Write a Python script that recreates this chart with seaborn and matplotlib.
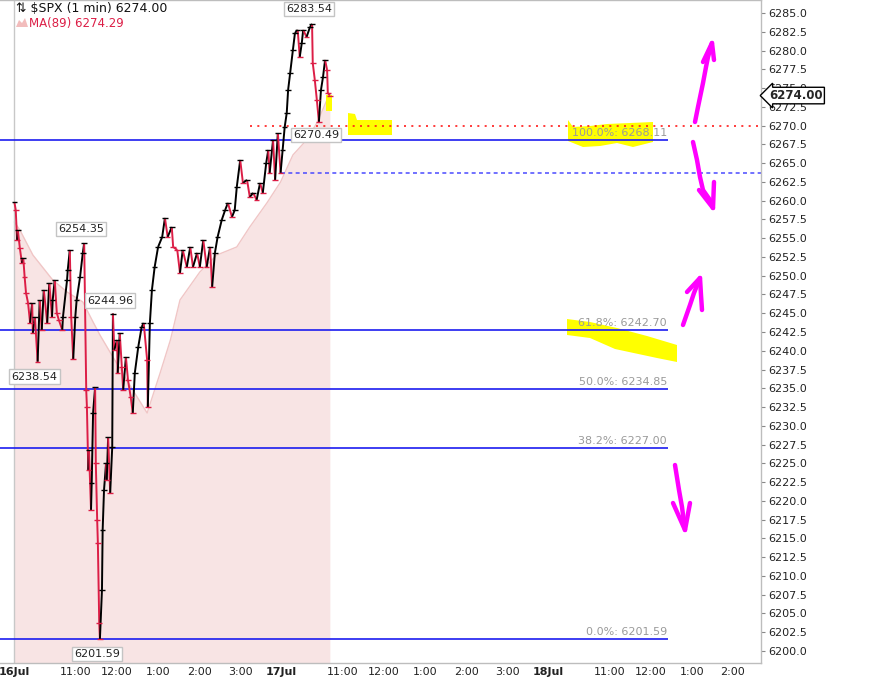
import numpy as np
import pandas as pd
import matplotlib.pyplot as plt
import seaborn as sns
import matplotlib.transforms as mtransforms
from matplotlib.collections import LineCollection
from matplotlib.patches import Polygon

# $SPX 1 min, prices (16 Jul - 17 Jul)
price_time = [
    "16 09:30", "16 09:32", "16 09:34", "16 09:35", "16 09:38", "16 09:41", "16 09:43", "16 09:45",
    "16 09:47", "16 09:50", "16 09:53", "16 09:56", "16 09:57", "16 10:00", "16 10:04", "16 10:07",
    "16 10:10", "16 10:13", "16 10:18", "16 10:21", "16 10:25", "16 10:26", "16 10:29", "16 10:32",
    "16 10:35", "16 10:40", "16 10:41", "16 10:47", "16 10:48", "16 10:51", "16 10:53", "16 10:56",
    "16 10:59", "16 11:01", "16 11:06", "16 11:10", "16 11:12", "16 11:15", "16 11:16", "16 11:18",
    "16 11:19", "16 11:22", "16 11:23", "16 11:25", "16 11:28", "16 11:29", "16 11:31", "16 11:32",
    "16 11:34", "16 11:35", "16 11:38", "16 11:39", "16 11:41", "16 11:44", "16 11:45", "16 11:47",
    "16 11:50", "16 11:53", "16 11:54", "16 11:56", "16 12:00", "16 12:01", "16 12:04", "16 12:07",
    "16 12:09", "16 12:13", "16 12:16", "16 12:20", "16 12:23", "16 12:26", "16 12:31", "16 12:36",
    "16 12:39", "16 12:44", "16 12:45", "16 12:48", "16 12:51", "16 12:55", "16 13:00", "16 13:06",
    "16 13:10", "16 13:14", "16 13:20", "16 13:22", "16 13:28", "16 13:32", "16 13:36", "16 13:42",
    "16 13:47", "16 13:51", "16 13:57", "16 14:01", "16 14:06", "16 14:11", "16 14:16", "16 14:19",
    "16 14:23", "16 14:27", "16 14:33", "16 14:38", "16 14:42", "16 14:48", "16 14:52", "16 14:55",
    "16 15:00", "16 15:04", "16 15:10", "16 15:14", "16 15:19", "16 15:24", "16 15:29", "16 15:33",
    "16 15:38", "16 15:41", "16 15:43", "16 15:48", "16 15:51", "16 15:55", "16 15:59",
    "17 09:32", "17 09:35", "17 09:38", "17 09:40", "17 09:43", "17 09:47", "17 09:50", "17 09:54",
    "17 09:57", "17 10:00", "17 10:02", "17 10:07", "17 10:12", "17 10:15", "17 10:16", "17 10:19",
    "17 10:22", "17 10:25", "17 10:28", "17 10:31", "17 10:34", "17 10:37", "17 10:38", "17 10:41",
]
price_close = [
    6259.82, 6258.75, 6254.76, 6256.09, 6253.69, 6251.69, 6252.36, 6249.83,
    6247.70, 6246.36, 6243.70, 6246.36, 6242.37, 6244.50, 6238.54, 6246.76,
    6242.77, 6248.10, 6243.70, 6249.03, 6244.50, 6246.76, 6249.43, 6245.03,
    6244.10, 6242.77, 6244.50, 6249.43, 6250.76, 6253.43, 6244.50, 6238.90,
    6244.50, 6246.76, 6249.83, 6253.03, 6254.35, 6234.77, 6232.51, 6224.11,
    6226.78, 6218.79, 6222.38, 6231.71, 6235.17, 6225.05, 6217.45, 6214.39,
    6203.73, 6201.59, 6208.13, 6216.12, 6221.45, 6225.05, 6222.78, 6228.51,
    6221.05, 6227.18, 6244.96, 6240.10, 6241.43, 6237.04, 6242.37, 6237.84,
    6234.77, 6239.17, 6236.11, 6233.84, 6231.71, 6237.04, 6240.50, 6243.17,
    6243.70, 6238.77, 6232.51, 6243.70, 6248.10, 6251.16, 6253.83, 6255.16,
    6257.69, 6255.16, 6256.49, 6253.83, 6253.43, 6250.36, 6253.43, 6251.16,
    6253.83, 6251.16, 6253.03, 6251.16, 6254.76, 6251.16, 6253.83, 6248.50,
    6253.03, 6255.16, 6257.42, 6258.75, 6259.69, 6257.82, 6258.75, 6261.82,
    6265.42, 6262.35, 6262.75, 6260.49, 6261.02, 6260.09, 6262.35, 6261.02,
    6265.02, 6266.75, 6263.68, 6268.08, 6262.75, 6269.01, 6263.70,
    6266.75, 6269.81, 6271.68, 6274.74, 6277.01, 6280.07, 6282.34, 6282.74,
    6279.14, 6281.00, 6282.74, 6281.80, 6283.14, 6283.54, 6278.34, 6276.08,
    6273.41, 6270.49, 6274.74, 6276.47, 6278.74, 6277.41, 6274.34, 6274.00,
]

# MA(89)
ma_time = ["16 09:30", "16 09:38", "16 09:57", "16 10:26", "16 10:47", "16 11:10", "16 11:25",
           "16 11:35", "16 11:54", "16 12:23", "16 12:44", "16 13:03", "16 13:18", "16 13:32",
           "16 14:01", "16 14:26", "16 14:55", "16 15:14", "16 15:39", "16 15:59",
           "17 09:47", "17 10:07", "17 10:22", "17 10:41"]
ma_value = [6257.16, 6256.09, 6252.76, 6249.43, 6247.83, 6246.50, 6243.83,
            6242.10, 6239.17, 6234.77, 6231.71, 6237.04, 6241.43, 6246.76,
            6250.49, 6252.76, 6253.83, 6256.49, 6259.69, 6262.49,
            6266.08, 6268.08, 6270.35, 6274.29]

fib_pct = ["100.0%", "61.8%", "50.0%", "38.2%", "0.0%"]
fib_level = [6268.11, 6242.70, 6234.85, 6227.00, 6201.59]
fib_end = "18 12:25"

alert_level = 6270.00
alert_start = "16 15:14"
prev_close = 6263.70
prev_close_start = "17 09:30"

callout_time = ["17 10:15", "17 10:25", "16 11:12", "16 11:54", "16 10:04", "16 11:35"]
callout_price = [6283.54, 6270.49, 6254.35, 6244.96, 6238.54, 6201.59]

tick_time = ["16 09:30", "16 11:00", "16 12:00", "16 13:00", "16 14:00", "16 15:00",
             "17 09:30", "17 11:00", "17 12:00", "17 13:00", "17 14:00", "17 15:00",
             "18 09:30", "18 11:00", "18 12:00", "18 13:00", "18 14:00"]
tick_text = ["16Jul", "11:00", "12:00", "1:00", "2:00", "3:00",
             "17Jul", "11:00", "12:00", "1:00", "2:00", "3:00",
             "18Jul", "11:00", "12:00", "1:00", "2:00"]

last_price = 6274.00


def session_pos(stamp):
    # minutes of trading time since 16 Jul 9:30 (390 min per session)
    day, hm = stamp.split()
    h, m = map(int, hm.split(":"))
    return (int(day) - 16) * 390 + h * 60 + m - 570


UP = "#000000"
DOWN = "#dc1e46"
BLUE = "#1c1cf0"
PINK = "#f8e4e4"

sns.set_style("white")
plt.rcParams["font.family"] = ["DejaVu Sans"]

W, H = 870, 680
fig = plt.figure(figsize=(8.7, 6.8), dpi=100)
ax = fig.add_axes([0, 17 / H, 761 / W, 663 / H])
XMIN, XMAX = -21, 1091
YMIN, YMAX = 6198.40, 6286.73
ax.set_xlim(XMIN, XMAX)
ax.set_ylim(YMIN, YMAX)


def fig_xy(pts):
    return [(x / W, 1 - y / H) for x, y in pts]


# hand drawn highlighter marks (pixel positions on the screenshot)
yellow_marks = [
    [(348, 113), (355, 114), (357, 120), (392, 120), (392, 135), (348, 135)],
    [(568, 120), (573, 127), (590, 126), (607, 124), (630, 123), (653, 122),
     (653, 142), (633, 147), (617, 143), (600, 146), (583, 147), (568, 141)],
    [(567, 319), (590, 322), (617, 328), (647, 336), (677, 345),
     (677, 362), (657, 358), (615, 349), (590, 338), (567, 335)],
    [(326, 95), (332, 95), (332, 111), (326, 111)],
]
for poly in yellow_marks:
    ax.add_patch(Polygon(fig_xy(poly), closed=True, fc="#ffff00", ec="none",
                         transform=fig.transFigure, zorder=1.2, clip_on=False))

# MA(89) shaded area
ma_df = pd.DataFrame({"pos": [session_pos(t) for t in ma_time], "ma": ma_value})
ax.fill_between(ma_df["pos"], ma_df["ma"], YMIN, color=PINK, lw=0, zorder=0.5)
sns.lineplot(data=ma_df, x="pos", y="ma", color="#f0c6c6", lw=1, ax=ax, zorder=0.6)
ax.axvline(session_pos("16 09:30") - 1, color="#c8c8c8", lw=1, zorder=0.7)

# fib lines and levels
fib_x1 = session_pos(fib_end)
ax.hlines(fib_level, XMIN, fib_x1, colors=BLUE, lw=1.2, zorder=1.5)
for pct, lvl in zip(fib_pct, fib_level):
    ax.annotate(f"{pct}: {lvl:.2f}", xy=(fib_x1, lvl), xytext=(-1, 2),
                textcoords="offset pixels", ha="right", va="bottom",
                fontsize=8, color="#9a9a9a", zorder=3)
ax.hlines(alert_level, session_pos(alert_start), XMAX, colors="#ff1a1a",
          linestyles=(0, (1.2, 3.2)), lw=1.2, zorder=1.6)
ax.hlines(prev_close, session_pos(prev_close_start), XMAX, colors="#4a4aff",
          linestyles=(0, (2.6, 2.2)), lw=1.1, zorder=1.6)

# price bars
df = pd.DataFrame({"pos": [session_pos(t) for t in price_time], "close": price_close})
df["dir"] = np.where(df["close"].diff().fillna(0) >= 0, "up", "down")
pts = df[["pos", "close"]].to_numpy()
segs = np.stack([pts[:-1], pts[1:]], axis=1)
seg_colors = [UP if d == "up" else DOWN for d in df["dir"].iloc[1:]]
ax.add_collection(LineCollection(segs, colors=seg_colors, lw=1.4, zorder=2))
sns.scatterplot(data=df, x="pos", y="close", hue="dir", palette={"up": UP, "down": DOWN},
                marker="_", s=16, linewidth=1.0, legend=False, ax=ax, zorder=2.1)

# hi/lo callouts
callout_dy = [15, -13, 14, 13, -15, -15]
for t, p, dy in zip(callout_time, callout_price, callout_dy):
    ax.annotate(f"{p:.2f}", xy=(session_pos(t), p), xytext=(-3, dy),
                textcoords="offset pixels", ha="center", va="center", fontsize=8,
                color="#222222", zorder=4,
                bbox=dict(boxstyle="square,pad=0.2", fc="white", ec="#c4c4c4", lw=1))

# axes styling
for side in ["left"]:
    ax.spines[side].set_visible(False)
for side in ["top", "right", "bottom"]:
    ax.spines[side].set_color("#bdbdbd")
    ax.spines[side].set_linewidth(1)
ax.yaxis.tick_right()
yt = np.arange(6200, 6285.01, 2.5)
ax.set_yticks(yt)
ax.set_yticklabels([f"{v:.1f}" for v in yt])
ax.tick_params(axis="y", length=3, width=0.8, color="#888888", labelsize=8, pad=2,
               labelcolor="#222222")
ax.set_xticks([session_pos(t) for t in tick_time])
ax.set_xticklabels(tick_text)
ax.tick_params(axis="x", length=0, labelsize=8, pad=3, labelcolor="#222222")
for lab in ax.get_xticklabels():
    if "Jul" in lab.get_text():
        lab.set_fontweight("bold")
ax.set_xlabel("")
ax.set_ylabel("")
ax.grid(False)

# last price tag
blend = mtransforms.blended_transform_factory(ax.transAxes, ax.transData)
ax.annotate(f"{last_price:.2f}", xy=(1.0, last_price), xycoords=blend, xytext=(8, 0),
            textcoords="offset pixels", ha="left", va="center", fontsize=8.5,
            fontweight="bold", annotation_clip=False, zorder=5,
            bbox=dict(boxstyle="larrow,pad=0.15", fc="white", ec="black", lw=1))

# header
fig.text(16 / W, 1 - 9 / H, "⇅ $SPX (1 min) 6274.00", fontsize=9, va="center",
         ha="left", color="#111111")
ax.add_patch(Polygon(fig_xy([(16, 27), (19, 20), (22, 23), (25, 18), (28, 27)]),
                     closed=True, fc="#f2bcbc", ec="none", transform=fig.transFigure,
                     clip_on=False))
fig.text(29 / W, 1 - 23 / H, "MA(89) 6274.29", fontsize=8.5, va="center", ha="left",
         color=DOWN)

# hand drawn magenta arrows (pixel positions on the screenshot)
arrows = [
    [(695, 122), (698, 107), (703, 83), (706, 67), (708, 57), (712, 43)],
    [(703, 62), (712, 43), (714, 60)],
    [(693, 142), (697, 160), (700, 177), (703, 190), (710, 200), (713, 208)],
    [(699, 190), (713, 208), (714, 182)],
    [(683, 325), (690, 305), (694, 293), (700, 278)],
    [(687, 292), (700, 278), (701, 295), (702, 310)],
    [(675, 465), (679, 490), (682, 507), (685, 530)],
    [(673, 503), (685, 530), (690, 503)],
]
for stroke in arrows:
    xy = np.array(fig_xy(stroke))
    ax.plot(xy[:, 0], xy[:, 1], color="#ff00ff", lw=3.2, solid_capstyle="round",
            solid_joinstyle="round", transform=fig.transFigure, clip_on=False, zorder=6)

fig.savefig("out.png", dpi=100)
